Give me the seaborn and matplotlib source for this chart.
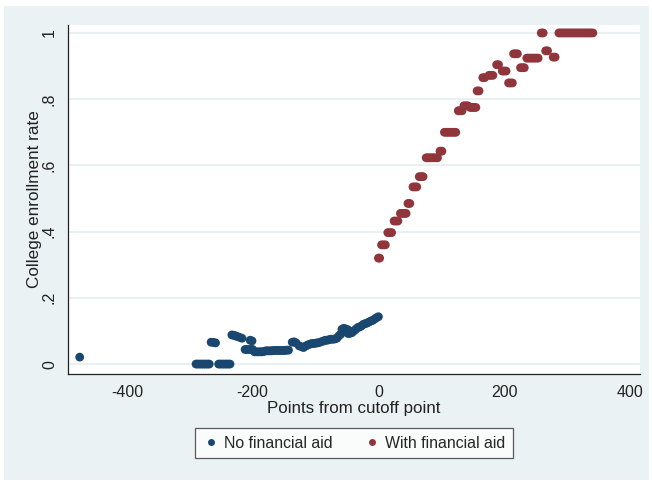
import numpy as np
import pandas as pd
import matplotlib
matplotlib.use("Agg")
import matplotlib.pyplot as plt
import seaborn as sns
from matplotlib.patches import Rectangle
from matplotlib.lines import Line2D

# ---- data ----
no_aid_x = [-475,
            -290, -287, -284, -281, -278, -275, -272, -269,
            -254, -251, -248, -245, -242, -239, -236,
            -266, -262, -259,
            -233, -230, -227, -224, -220, -217,
            -204, -201,
            -212, -209, -206, -203, -200,
            -197, -194, -191, -188, -185, -182,
            -179, -176, -173, -170, -167, -164, -161, -158, -155, -152, -149, -146, -143,
            -137, -134, -131,
            -126, -122, -119,
            -115, -112, -109, -106, -103, -100, -97, -94,
            -90, -87, -84, -81, -78, -75, -72, -69, -66,
            -63, -60,
            -58, -55, -52, -49, -46,
            -48, -45, -42,
            -39, -36, -33,
            -30, -27, -24, -21, -18,
            -15, -12, -9, -6, -3, 0]
no_aid_y = [0.021,
            0, 0, 0, 0, 0, 0, 0, 0,
            0, 0, 0, 0, 0, 0, 0,
            0.066, 0.065, 0.064,
            0.088, 0.087, 0.085, 0.083, 0.080, 0.078,
            0.072, 0.070,
            0.044, 0.044, 0.044, 0.044, 0.044,
            0.037, 0.037, 0.037, 0.037, 0.037, 0.038,
            0.040, 0.040, 0.040, 0.040, 0.041, 0.041, 0.041, 0.041, 0.041, 0.041, 0.041, 0.042, 0.042,
            0.066, 0.067, 0.064,
            0.055, 0.052, 0.050,
            0.055, 0.058, 0.060, 0.062, 0.062, 0.063, 0.064, 0.065,
            0.068, 0.070, 0.072, 0.072, 0.074, 0.075, 0.075, 0.076, 0.078,
            0.085, 0.090,
            0.105, 0.108, 0.106, 0.104, 0.100,
            0.092, 0.093, 0.095,
            0.100, 0.105, 0.110,
            0.112, 0.115, 0.120, 0.122, 0.124,
            0.127, 0.130, 0.132, 0.136, 0.140, 0.143]

aid_x = [0, 2,
         5, 8, 11,
         15, 18, 21,
         25, 28, 31,
         35, 38, 41, 44,
         47, 50,
         55, 58, 61,
         65, 68, 71,
         76, 79, 82, 85, 88, 91, 94,
         98, 101,
         105, 108, 111, 114, 117, 120, 123,
         127, 130, 133,
         136, 139, 142,
         146, 149, 152, 155,
         157, 160,
         166, 169,
         176, 179, 182,
         188, 191,
         197, 200, 203,
         207, 210, 213,
         215, 218, 221,
         226, 229, 232,
         236, 239, 242, 245, 248, 251, 254,
         259, 262,
         266, 269,
         278, 281,
         287, 290, 293, 296, 299, 302, 305, 308, 311, 314, 317, 320, 323, 326, 329, 332, 335, 338, 341]
aid_y = [0.32, 0.32,
         0.36, 0.36, 0.36,
         0.397, 0.397, 0.397,
         0.432, 0.432, 0.432,
         0.455, 0.455, 0.455, 0.455,
         0.485, 0.485,
         0.535, 0.535, 0.535,
         0.566, 0.566, 0.566,
         0.623, 0.623, 0.623, 0.623, 0.623, 0.623, 0.623,
         0.643, 0.643,
         0.70, 0.70, 0.70, 0.70, 0.70, 0.70, 0.70,
         0.765, 0.765, 0.765,
         0.78, 0.78, 0.78,
         0.775, 0.775, 0.775, 0.775,
         0.825, 0.825,
         0.865, 0.865,
         0.872, 0.872, 0.872,
         0.904, 0.904,
         0.885, 0.885, 0.885,
         0.849, 0.849, 0.849,
         0.937, 0.937, 0.937,
         0.895, 0.895, 0.895,
         0.924, 0.924, 0.924, 0.924, 0.924, 0.924, 0.924,
         1.0, 1.0,
         0.946, 0.946,
         0.927, 0.927,
         1.0, 1.0, 1.0, 1.0, 1.0, 1.0, 1.0, 1.0, 1.0, 1.0, 1.0, 1.0, 1.0, 1.0, 1.0, 1.0, 1.0, 1.0, 1.0]

groups = ["No financial aid", "With financial aid"]
x_ticks = [-400, -200, 0, 200, 400]
y_ticks = [0, 0.2, 0.4, 0.6, 0.8, 1.0]
y_ticklabels = ["0", ".2", ".4", ".6", ".8", "1"]

df = pd.DataFrame({
    "x": no_aid_x + aid_x,
    "y": no_aid_y + aid_y,
    "group": [groups[0]] * len(no_aid_x) + [groups[1]] * len(aid_x),
})

BLUE = "#1A476F"
RED = "#90353B"
BG = "#EAF2F3"

sns.set_style("white")
plt.rcParams["font.family"] = ["Liberation Sans", "DejaVu Sans"]

W, H = 652, 483
fig = plt.figure(figsize=(W / 100, H / 100), dpi=100, facecolor="white")
fig.patches.append(Rectangle((4 / W, 3 / H), 645 / W, 474 / H, transform=fig.transFigure,
                             facecolor=BG, edgecolor="none", zorder=-10))

ax = fig.add_axes([68 / W, (H - 374) / H, (640 - 68) / W, (374 - 25) / H])
ax.set_facecolor("white")

sns.scatterplot(data=df, x="x", y="y", hue="group", palette=[BLUE, RED],
                s=40, linewidth=0, marker="o", legend=False, ax=ax, zorder=3)

ax.set_xlim(-493.6, 416)
ax.set_ylim(-0.030, 1.024)

ax.set_yticks(y_ticks)
ax.set_yticklabels(y_ticklabels, rotation=90, va="center")
ax.set_xticks(x_ticks)
ax.set_xticklabels([str(v) for v in x_ticks])
ax.tick_params(axis="both", direction="out", length=5, width=0.8, color="#333333",
               labelsize=11.5, labelcolor="#222222", pad=3)

ax.yaxis.grid(True, color="#E4EEF0", linewidth=1.2, zorder=0)
ax.xaxis.grid(False)
for side in ["top", "right"]:
    ax.spines[side].set_visible(False)
for side in ["left", "bottom"]:
    ax.spines[side].set_color("#222222")
    ax.spines[side].set_linewidth(0.9)

ax.set_xlabel("Points from cutoff point", fontsize=12.2, color="#222222", labelpad=1)
ax.set_ylabel("College enrollment rate", fontsize=12.3, color="#222222", labelpad=0)

handles = [Line2D([0], [0], marker="o", linestyle="none", markerfacecolor=BLUE,
                  markeredgecolor="none", markersize=5),
           Line2D([0], [0], marker="o", linestyle="none", markerfacecolor=RED,
                  markeredgecolor="none", markersize=5)]
leg = fig.legend(handles, groups, loc="center", bbox_to_anchor=(354 / W, 1 - 443 / H),
                 ncol=2, frameon=True, fancybox=False, fontsize=11.4,
                 handletextpad=0.3, columnspacing=2.0, borderpad=0.5, handlelength=1.0)
leg.get_frame().set_edgecolor("#333333")
leg.get_frame().set_linewidth(0.9)
leg.get_frame().set_facecolor("white")

fig.savefig("out.png", dpi=100, facecolor=fig.get_facecolor())
